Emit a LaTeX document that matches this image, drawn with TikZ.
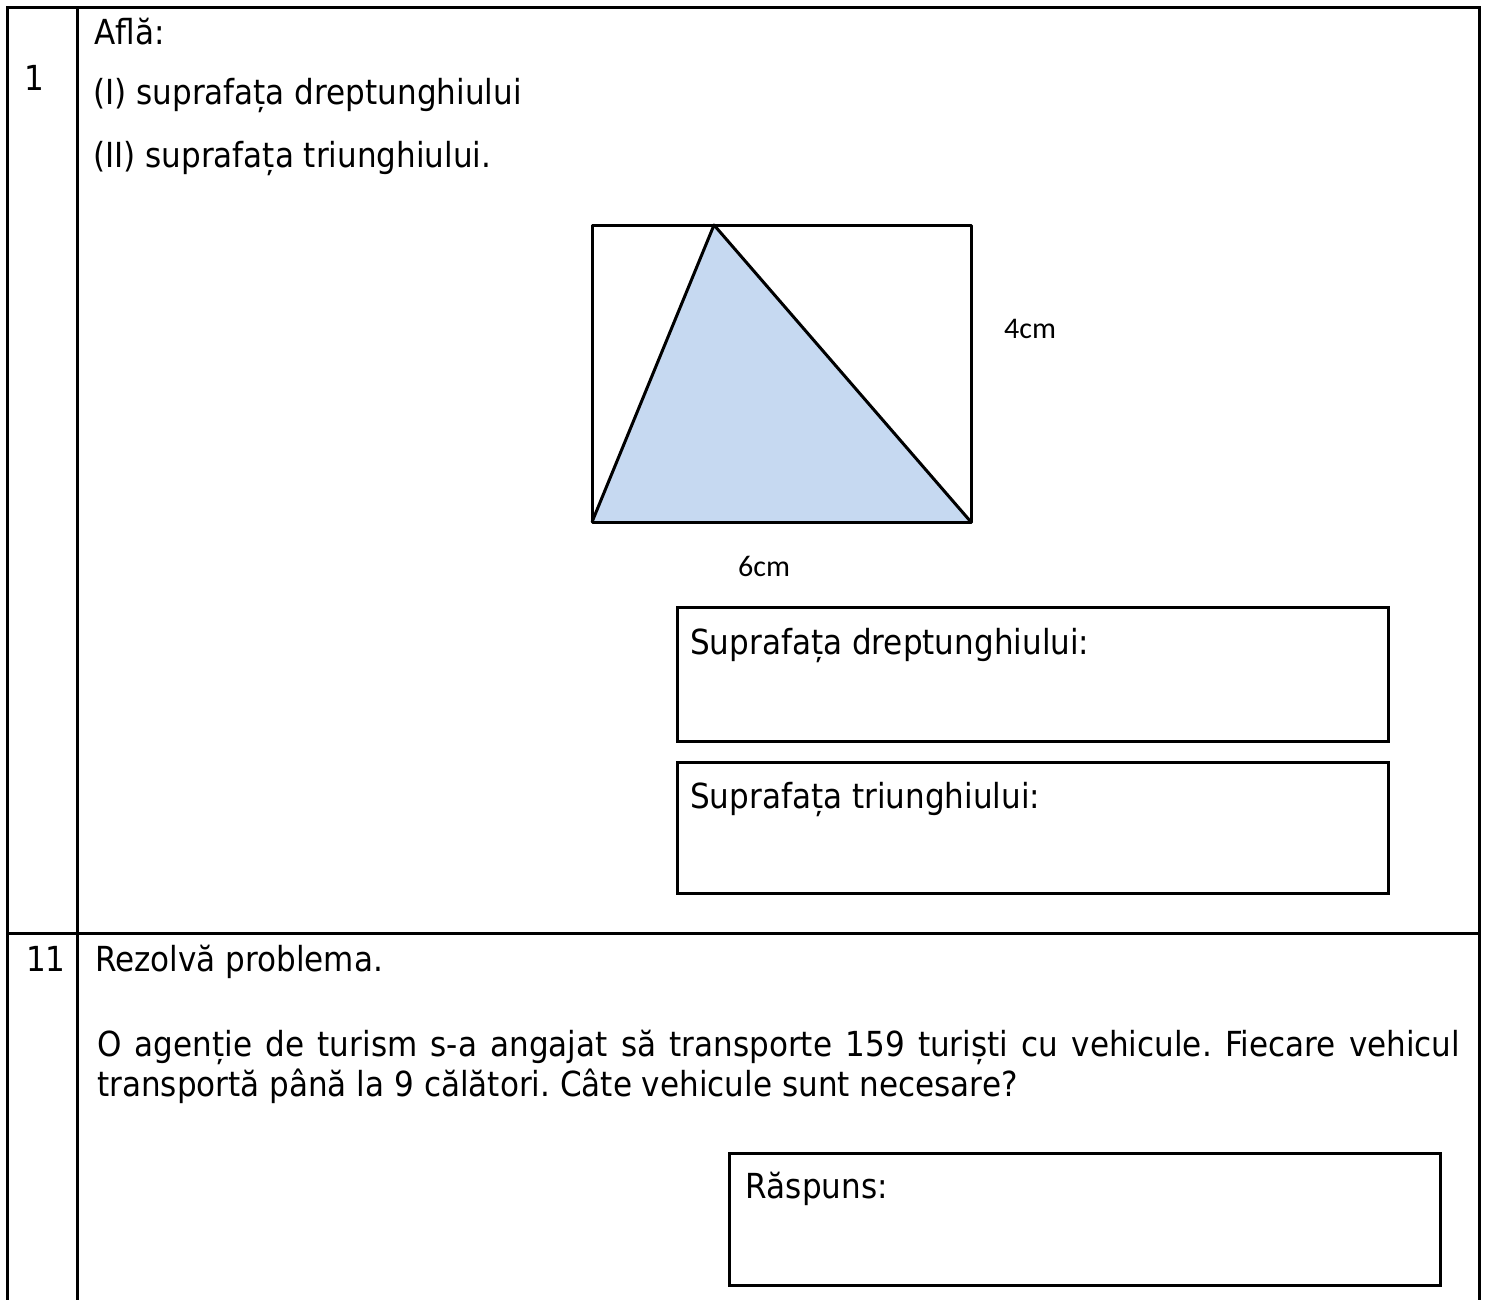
\documentclass[tikz,border=0pt]{standalone}
\usepackage{fontspec}
\setmainfont{DejaVu Sans}[FakeStretch=0.9]
\newfontfamily\calib{Carlito}
\definecolor{triblue}{HTML}{C6D9F1}
\frenchspacing
\begin{document}
\begin{tikzpicture}[x=1pt,y=-1pt,
  txt/.style={anchor=base west, inner sep=0pt, font=\fontsize{34.5}{41}\selectfont},
  small/.style={anchor=base west, inner sep=0pt, font=\calib\fontsize{30}{36}\selectfont},
  rule/.style={line width=3pt},
  fig/.style={line width=3pt, line join=round},
  ansbox/.style={draw, line width=2.5pt, inner sep=0pt, anchor=north west}]
\useasboundingbox (0,0) rectangle (1485,1299);
\fill[white] (0,0) rectangle (1485,1299);

% table
\draw[rule] (7,1310) -- (7,7) -- (1479,7) -- (1479,1310);
\draw[rule] (77,7) -- (77,1310);
\draw[rule] (7,933) -- (1479,933);

% row 1 texts
\node[txt] (n1) at (24,90) {1};
\node[txt] (afla) at (94,44) {Află:};
\node[txt] (l1) at (93,104) {(I) suprafața dreptunghiului};
\node[txt] (l2) at (93,167) {(II) suprafața triunghiului.};

% figure
\coordinate (A) at (592,522);
\coordinate (B) at (971,522);
\coordinate (C) at (971,225);
\coordinate (T) at (714,225);
\fill[triblue] (A) -- (B) -- (T) -- cycle;
\draw[fig] (A) rectangle (C);
\draw[fig] (A) -- (T) -- (B);
\node[small] (h) at (1004,338) {4cm};
\node[small] (w) at (738,576) {6cm};

% answer boxes row 1
\node[ansbox, minimum width=711pt, minimum height=134pt] (b1) at (676,606) {};
\node[txt] (b1t) at (690,654) {Suprafața dreptunghiului:};
\node[ansbox, minimum width=711pt, minimum height=131pt] (b2) at (676,761) {};
\node[txt] (b2t) at (690,808) {Suprafața triunghiului:};

% row 2
\node[txt] (n11) at (26,971) {11};
\node[txt] (rez) at (95,971) {Rezolvă problema.};
\node[txt] (p1) at (97,1056) {\makebox[1363pt][s]{O agenție de turism s-a angajat să transporte 159 turiști cu vehicule. Fiecare vehicul}};
\node[txt] (p2) at (97,1096) {transportă până la 9 călători. Câte vehicule sunt necesare?};

\node[ansbox, minimum width=711pt, minimum height=132pt] (b3) at (728,1152) {};
\node[txt] (b3t) at (745,1198) {Răspuns:};
\end{tikzpicture}
\end{document}
